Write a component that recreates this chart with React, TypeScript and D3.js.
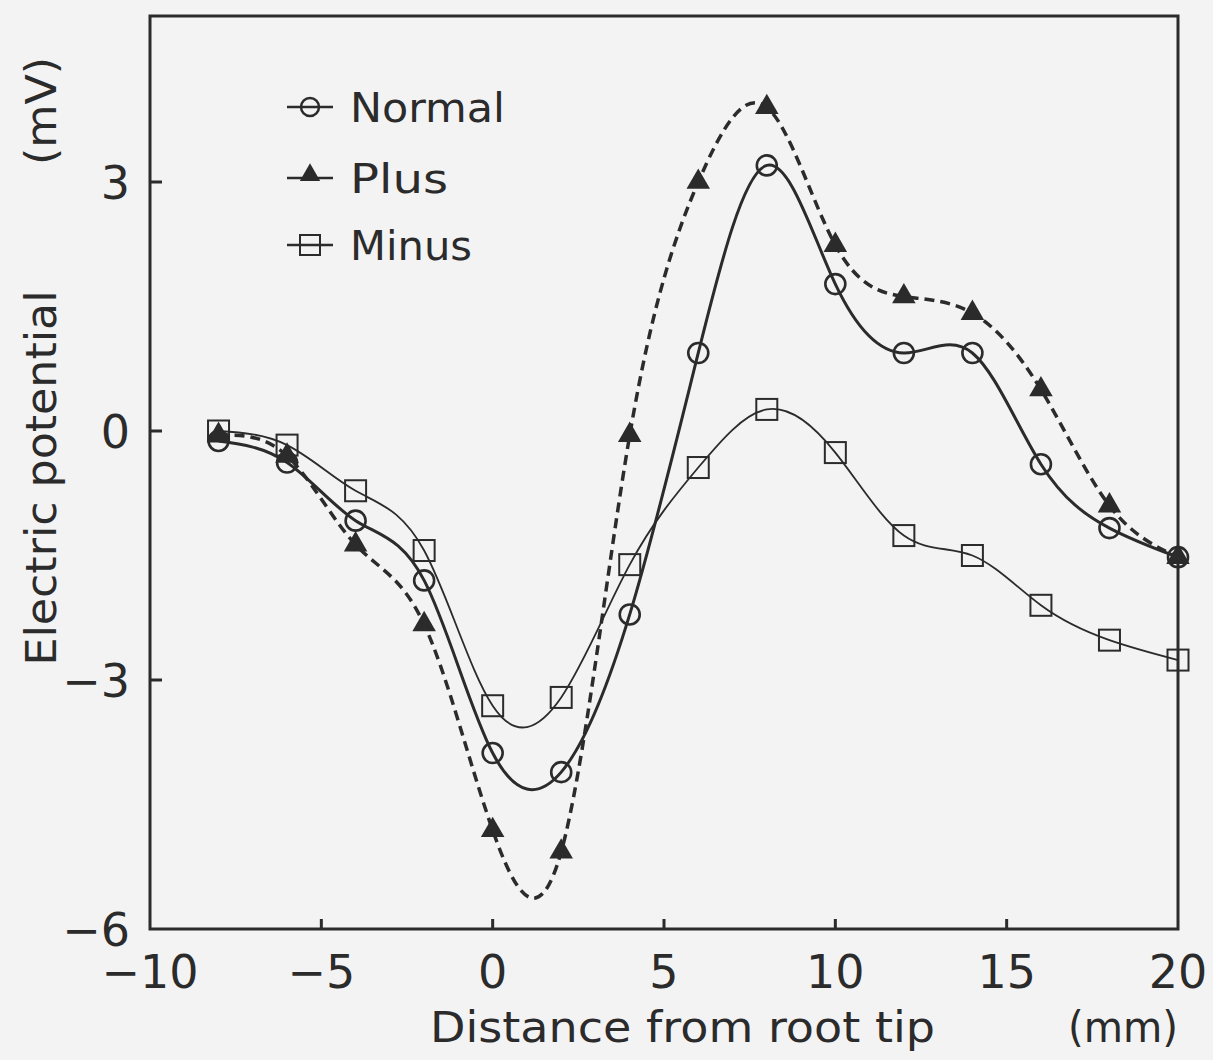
import React from "react";
import * as d3 from "d3";

const distance = [-8, -6, -4, -2, 0, 2, 4, 6, 8, 10, 12, 14, 16, 18, 20];
const normal = [-0.12, -0.38, -1.08, -1.8, -3.88, -4.11, -2.21, 0.94, 3.2, 1.77, 0.94, 0.94, -0.4, -1.17, -1.52];
const plus = [-0.05, -0.3, -1.37, -2.33, -4.81, -5.07, -0.05, 3.0, 3.9, 2.24, 1.62, 1.42, 0.5, -0.9, -1.52];
const minus = [0.0, -0.17, -0.72, -1.44, -3.31, -3.21, -1.61, -0.44, 0.26, -0.26, -1.26, -1.5, -2.1, -2.52, -2.76];
const xTicks = [-10, -5, 0, 5, 10, 15, 20];
const yTicks = [-6, -3, 0, 3];
const legendLabels = ["Normal", "Plus", "Minus"];
const legendWidths = [155, 98, 122];

const W = 1213;
const H = 1060;
const INK = "#2b2b2b";
const FONT = "'DejaVu Sans', sans-serif";

export default function App() {
  const x = d3.scaleLinear().domain([-10, 20]).range([150, 1178]);
  const y = d3.scaleLinear().domain([-6, 5]).range([929, 16]);
  const line = d3
    .line<number>()
    .x((_, i) => x(distance[i]))
    .y((d) => y(d))
    .curve(d3.curveNatural);
  const tri = d3.symbol(d3.symbolTriangle, 240)() as string;
  const triSmall = d3.symbol(d3.symbolTriangle, 180)() as string;
  const sq = 21;

  const legendY = [107, 178, 245];

  return (
    <svg
      width={W}
      height={H}
      style={{ position: "absolute", left: 0, top: 0, background: "#f4f3f4" }}
      fontFamily={FONT}
    >
      <rect x={0} y={0} width={W} height={H} fill="#f4f3f4" />
      {/* frame */}
      <rect x={x(-10)} y={y(5)} width={x(20) - x(-10)} height={y(-6) - y(5)} fill="none" stroke={INK} strokeWidth={3} />
      {/* ticks */}
      {xTicks.slice(1, -1).map((t) => (
        <line key={"xt" + t} x1={x(t)} x2={x(t)} y1={y(-6)} y2={y(-6) - 10} stroke={INK} strokeWidth={3} />
      ))}
      {yTicks.slice(1).map((t) => (
        <line key={"yt" + t} x1={x(-10)} x2={x(-10) + 12} y1={y(t)} y2={y(t)} stroke={INK} strokeWidth={3} />
      ))}
      {/* tick labels */}
      {xTicks.map((t) => (
        <text key={"xl" + t} x={x(t)} y={988} textAnchor="middle" fontSize={46} fill={INK}>
          {t < 0 ? "\u2212" + Math.abs(t) : String(t)}
        </text>
      ))}
      {yTicks.map((t) => (
        <text key={"yl" + t} x={130} y={y(t) + 17} textAnchor="end" fontSize={46} fill={INK}>
          {t < 0 ? "\u2212" + Math.abs(t) : String(t)}
        </text>
      ))}
      {/* axis titles */}
      <text x={430} y={1042} fontSize={43} fill={INK} textLength={505} lengthAdjust="spacingAndGlyphs">
        Distance from root tip
      </text>
      <text x={1068} y={1042} fontSize={43} fill={INK} textLength={110} lengthAdjust="spacingAndGlyphs">
        (mm)
      </text>
      <text transform="translate(56,478) rotate(-90)" textAnchor="middle" fontSize={43} fill={INK} textLength={375} lengthAdjust="spacingAndGlyphs">
        Electric potential
      </text>
      <text transform="translate(56,111) rotate(-90)" textAnchor="middle" fontSize={43} fill={INK} textLength={108} lengthAdjust="spacingAndGlyphs">
        (mV)
      </text>

      {/* curves */}
      <path d={line(minus) as string} fill="none" stroke={INK} strokeWidth={1.8} />
      <path d={line(normal) as string} fill="none" stroke={INK} strokeWidth={3} />
      <path d={line(plus) as string} fill="none" stroke={INK} strokeWidth={3.5} strokeDasharray="10 6" />

      {/* markers */}
      {minus.map((v, i) => (
        <rect key={"m" + i} x={x(distance[i]) - sq / 2} y={y(v) - sq / 2} width={sq} height={sq} fill="none" stroke={INK} strokeWidth={2} />
      ))}
      {normal.map((v, i) => (
        <circle key={"n" + i} cx={x(distance[i])} cy={y(v)} r={10} fill="none" stroke={INK} strokeWidth={2.6} />
      ))}
      {plus.map((v, i) => (
        <path key={"p" + i} d={tri} transform={`translate(${x(distance[i])},${y(v)})`} fill={INK} />
      ))}

      {/* legend */}
      {legendLabels.map((lab, i) => (
        <g key={lab}>
          <line x1={287} x2={333} y1={legendY[i]} y2={legendY[i]} stroke={INK} strokeWidth={2.5} />
          {i === 0 && <circle cx={310} cy={legendY[i]} r={9} fill="none" stroke={INK} strokeWidth={2.5} />}
          {i === 1 && <path d={triSmall} transform={`translate(310,${legendY[i] - 3})`} fill={INK} />}
          {i === 2 && <rect x={300} y={legendY[i] - 10} width={20} height={20} fill="none" stroke={INK} strokeWidth={2} />}
          <text x={350} y={legendY[i] + 15} fontSize={40} fill={INK} textLength={legendWidths[i]} lengthAdjust="spacingAndGlyphs">
            {lab}
          </text>
        </g>
      ))}
    </svg>
  );
}
